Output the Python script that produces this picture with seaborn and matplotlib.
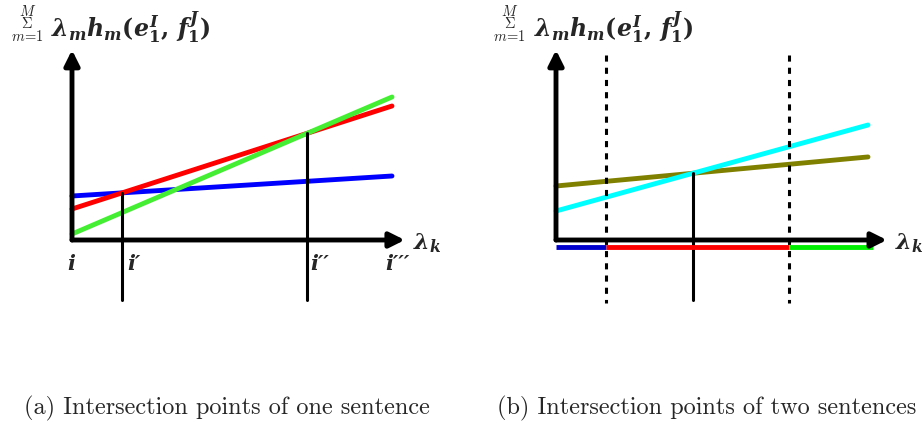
import matplotlib
matplotlib.use("Agg")
import matplotlib.pyplot as plt
import numpy as np
import seaborn as sns

sns.set_style("white")
# bold italic maths for the diagram labels, Computer Modern for the sum sign
plt.rcParams['mathtext.fontset'] = 'custom'
plt.rcParams['mathtext.it'] = 'DejaVu Serif:italic:bold'
plt.rcParams['mathtext.rm'] = 'DejaVu Serif:bold'
plt.rcParams['mathtext.bf'] = 'DejaVu Serif:italic:bold'

# panel (a): three hypotheses, value = intercept + slope * lambda_k
a_colors = ['#0000ff', '#ff0000', '#44ee33']
a_intercepts = [2.2, 1.55, 0.3]
a_slopes = [0.1, 0.515, 0.685]
a_xmax = 10.0
a_labels = ['i', 'i\u2032', 'i\u2032\u2032', 'i\u2032\u2032\u2032']

# panel (b): two sentences
b_colors = ['#808000', '#00ffff']
b_intercepts = [2.7, 1.45]
b_slopes = [0.149, 0.441]
b_xmax = 9.75
# intervals on the lambda axis and their colours
b_bounds = [0.0, 1.5625, 7.28, 9.9]
b_seg_colors = ['#0000cc', '#ff0000', '#00ee00']

sum_lab = '$M$\n$\\Sigma$\n$m\\!=\\!1$'
ylab = r'$\lambda_m h_m(e_1^I,\, f_1^J)$'
captions = ['(a) Intersection points of one sentence', '(b) Intersection points of two sentences']

W, H = 924, 424
fig = plt.figure(figsize=(W / 100, H / 100), dpi=100)


def make_ax(left_px, width_px, origin_px):
    ax = fig.add_axes([left_px / W, 0, width_px / W, 1])
    ax.set_xlim(-origin_px / 32, (width_px - origin_px) / 32)
    ax.set_ylim(-(H - 240) / 20, 240 / 20)
    ax.axis('off')
    return ax


def draw_axes(ax, xtip, sum_x):
    ax.annotate('', xy=(xtip, 0), xytext=(0, 0),
                arrowprops=dict(arrowstyle='-|>,head_length=0.9,head_width=0.45', lw=3.5, color='black',
                                shrinkA=0, shrinkB=0))
    ax.annotate('', xy=(0, 9.5), xytext=(0, 0),
                arrowprops=dict(arrowstyle='-|>,head_length=0.9,head_width=0.45', lw=3.5, color='black',
                                shrinkA=0, shrinkB=0))
    ax.text(xtip + 0.25, -0.15, r'$\lambda_k$', fontsize=16, ha='left', va='center')
    # small text-style sum with limits stacked
    ax.text(sum_x, 10.8, sum_lab, fontsize=10.5, ha='center', va='center', multialignment='center',
            linespacing=0.8, math_fontfamily='cm')
    ax.text(sum_x + 0.75, 10.65, ylab, fontsize=17, ha='left', va='center')


def crossing(i0, s0, i1, s1):
    x = (i1 - i0) / (s0 - s1)
    return x, i0 + s0 * x


# ---- panel (a)
ax = make_ax(0, 460, 72)
xs = np.array([0.0, a_xmax])
for c, b0, s in zip(a_colors, a_intercepts, a_slopes):
    sns.lineplot(x=xs, y=b0 + s * xs, color=c, lw=3.5, ax=ax)
x1, y1 = crossing(a_intercepts[0], a_slopes[0], a_intercepts[1], a_slopes[1])
x2, y2 = crossing(a_intercepts[1], a_slopes[1], a_intercepts[2], a_slopes[2])
for xv, yv in [(x1, y1), (x2, y2)]:
    ax.plot([xv, xv], [yv, -3.0], color='black', lw=2.2)
draw_axes(ax, 10.4, -1.4)
for xv, lab, dx in zip([0.0, x1, x2, a_xmax], a_labels, [-0.15, 0.15, 0.1, -0.2]):
    ax.text(xv + dx, -1.2, lab, fontsize=15, ha='left', va='center',
            family='DejaVu Serif', style='italic', weight='bold')

# ---- panel (b)
ax = make_ax(460, 464, 96)
xs = np.array([0.0, b_xmax])
for c, b0, s in zip(b_colors, b_intercepts, b_slopes):
    sns.lineplot(x=xs, y=b0 + s * xs, color=c, lw=3.5, ax=ax)
xc, yc = crossing(b_intercepts[0], b_slopes[0], b_intercepts[1], b_slopes[1])
ax.plot([xc, xc], [yc, -3.0], color='black', lw=2.2)
for xv in b_bounds[1:3]:
    ax.plot([xv, xv], [9.25, -3.15], color='black', lw=2.2, ls=(0, (2, 2)))
for lo, hi, c in zip(b_bounds[:-1], b_bounds[1:], b_seg_colors):
    ax.plot([lo, hi], [-0.35, -0.35], color=c, lw=3.5, solid_capstyle='butt')
draw_axes(ax, 10.34, -1.45)

fig.text(227 / W, 1 - 408 / H, captions[0], family='cmr10', fontsize=17.5, ha='center', va='center')
fig.text(707 / W, 1 - 408 / H, captions[1], family='cmr10', fontsize=17.5, ha='center', va='center')

fig.savefig('out.png', dpi=100)
